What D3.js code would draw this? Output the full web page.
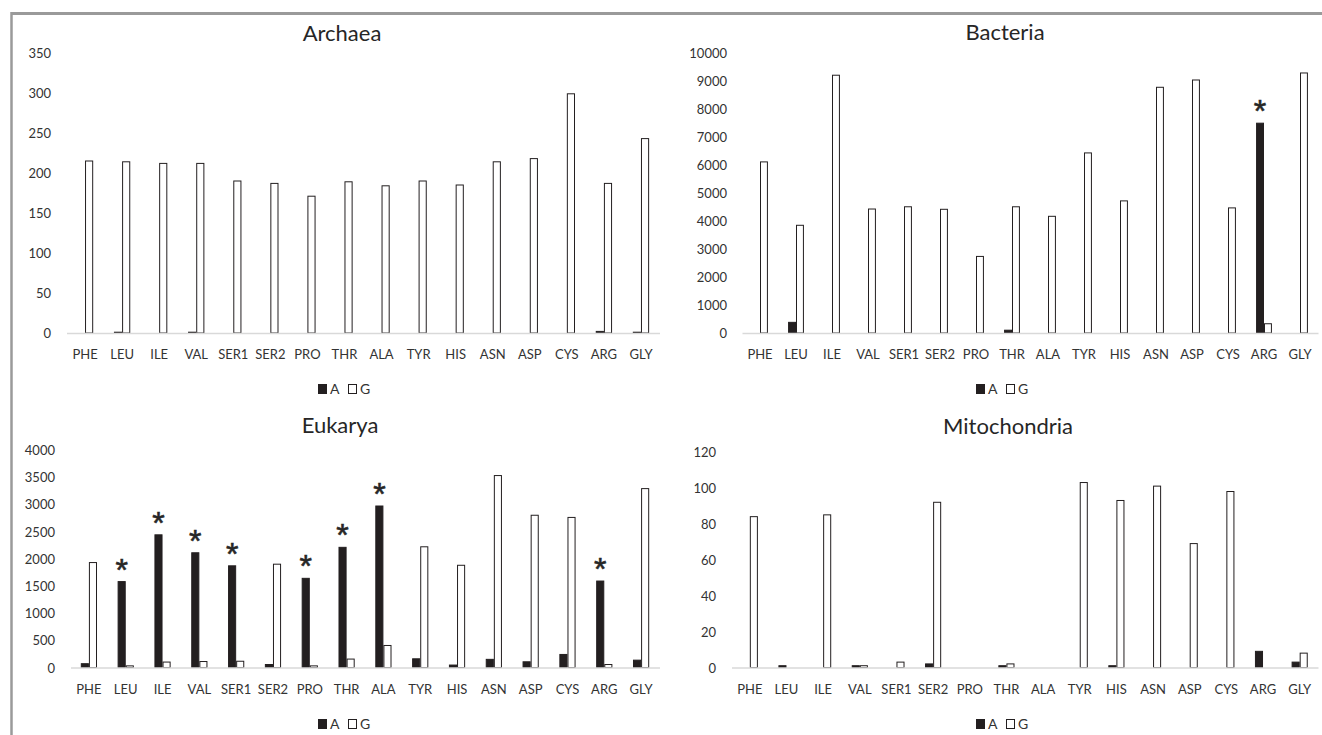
<!DOCTYPE html>
<html lang="en">
<head>
<meta charset="utf-8">
<title>A / G counts</title>
<script src="https://d3js.org/d3.v7.min.js"></script>
<style>
  body { margin: 0; background: #fff; }
  svg text { font-family: Lato, "Open Sans", sans-serif; fill: #262626; }
</style>
</head>
<body>
<div id="chart"></div>
<script>
const categories = ["PHE","LEU","ILE","VAL","SER1","SER2","PRO","THR","ALA","TYR","HIS","ASN","ASP","CYS","ARG","GLY"];

const archaeaA = [0, 1, 0, 1, 0, 0, 0, 0, 0, 0, 0, 0, 0, 0, 2, 1];
const archaeaG = [215, 214, 212, 212, 190, 187, 171, 189, 184, 190, 185, 214, 218, 299, 187, 243];
const archaeaTicks = [0, 50, 100, 150, 200, 250, 300, 350];
const archaeaStars = [];

const bacteriaA = [0, 380, 0, 0, 0, 0, 0, 100, 0, 0, 0, 0, 0, 0, 7480, 0];
const bacteriaG = [6100, 3840, 9190, 4420, 4500, 4410, 2730, 4500, 4160, 6420, 4710, 8760, 9020, 4460, 330, 9270];
const bacteriaTicks = [0, 1000, 2000, 3000, 4000, 5000, 6000, 7000, 8000, 9000, 10000];
const bacteriaStars = ["ARG"];

const eukaryaA = [70, 1580, 2440, 2110, 1870, 55, 1640, 2210, 2970, 160, 45, 150, 105, 240, 1590, 135];
const eukaryaG = [1930, 30, 100, 110, 115, 1900, 30, 155, 405, 2220, 1880, 3530, 2800, 2760, 55, 3290];
const eukaryaTicks = [0, 500, 1000, 1500, 2000, 2500, 3000, 3500, 4000];
const eukaryaStars = ["LEU","ILE","VAL","SER1","PRO","THR","ALA","ARG"];

const mitoA = [0, 1, 0, 1, 0, 2, 0, 1, 0, 0, 1, 0, 0, 0, 9, 3];
const mitoG = [84, 0, 85, 1, 3, 92, 0, 2, 0, 103, 93, 101, 69, 98, 0, 8];
const mitoTicks = [0, 20, 40, 60, 80, 100, 120];
const mitoStars = [];

const seriesNames = ["A", "G"];

// layout of the four panels
const panels = [
  { title: "Archaea", A: archaeaA, G: archaeaG, ticks: archaeaTicks, stars: archaeaStars,
    xr: [66.5, 659.5], yr: [333, 53], labelX: 51, titleX: 342, titleY: 41, catY: 359, legendX: 340, legendY: 389 },
  { title: "Bacteria", A: bacteriaA, G: bacteriaG, ticks: bacteriaTicks, stars: bacteriaStars,
    xr: [742, 1318], yr: [333, 52.5], labelX: 727, titleX: 1005, titleY: 40, catY: 359, legendX: 998, legendY: 389 },
  { title: "Eukarya", A: eukaryaA, G: eukaryaG, ticks: eukaryaTicks, stars: eukaryaStars,
    xr: [70.5, 659.5], yr: [667.5, 450], labelX: 55, titleX: 340, titleY: 433, catY: 694, legendX: 340, legendY: 724 },
  { title: "Mitochondria", A: mitoA, G: mitoG, ticks: mitoTicks, stars: mitoStars,
    xr: [731.5, 1318], yr: [667.5, 452], labelX: 716, titleX: 1008, titleY: 434, catY: 694, legendX: 998, legendY: 724 }
];

const W = 1322, H = 735;
const svg = d3.select("#chart").append("svg")
  .attr("width", W).attr("height", H)
  .attr("viewBox", [0, 0, W, H]);

// grey frame (top and left edges)
svg.append("line").attr("x1", 11).attr("x2", W).attr("y1", 13.5).attr("y2", 13.5)
  .attr("stroke", "#9a9a9a").attr("stroke-width", 3);
svg.append("line").attr("x1", 11.5).attr("x2", 11.5).attr("y1", 12).attr("y2", H)
  .attr("stroke", "#9a9a9a").attr("stroke-width", 2.5);

function drawPanel(p) {
  const g = svg.append("g");
  const data = categories.map((c, i) => ({ cat: c, A: p.A[i], G: p.G[i] }));

  const x0 = d3.scaleBand().domain(categories).range(p.xr).paddingInner(0).paddingOuter(0);
  const bw = x0.bandwidth();
  const x1 = d3.scaleBand().domain(seriesNames).range([bw * 0.28, bw * 0.72]);
  const y = d3.scaleLinear().domain([0, d3.max(p.ticks)]).range(p.yr);

  // title
  g.append("text").attr("x", p.titleX).attr("y", p.titleY)
    .attr("text-anchor", "middle").style("font-size", "22px").text(p.title);

  // y axis labels
  const yAxis = d3.axisLeft(y).tickValues(p.ticks).tickFormat(d3.format("d")).tickSize(0).tickPadding(0);
  const ya = g.append("g").attr("transform", `translate(${p.labelX},0)`).call(yAxis);
  ya.select(".domain").remove();
  ya.selectAll("text").style("font-size", "13px").style("fill", "#333").attr("dy", "0.35em");

  // bars
  const groups = g.append("g").selectAll("g").data(data).join("g")
    .attr("transform", d => `translate(${x0(d.cat)},0)`);
  groups.selectAll("rect").data(d => seriesNames.map(k => ({ key: k, value: d[k] })))
    .join("rect")
    .filter(d => d.value > 0)
    .attr("x", d => x1(d.key) + 0.5)
    .attr("width", x1.bandwidth() - 1)
    .attr("y", d => y(d.value))
    .attr("height", d => y(0) - y(d.value))
    .attr("fill", d => d.key === "A" ? "#231f20" : "#fff")
    .attr("stroke", "#231f20")
    .attr("stroke-width", 1);

  // x axis
  const xAxis = d3.axisBottom(x0).tickSize(0).tickPadding(0);
  const xa = g.append("g").attr("transform", `translate(0,${p.yr[0]})`).call(xAxis);
  xa.select(".domain").attr("stroke", "#d9d9d9").attr("stroke-width", 1.5);
  xa.selectAll("text").attr("y", p.catY - p.yr[0]).attr("dy", 0)
    .style("font-size", "13px").style("fill", "#333");

  // significance stars above A bars
  g.append("g").selectAll("text").data(data.filter(d => p.stars.includes(d.cat)))
    .join("text")
    .attr("x", d => x0(d.cat) + x1("A") + x1.bandwidth() / 2)
    .attr("y", d => y(d.A) - 1)
    .attr("text-anchor", "middle")
    .style("font-family", "'Liberation Sans', sans-serif")
    .style("font-size", "32px")
    .style("stroke", "#262626")
    .style("stroke-width", 0.6)
    .text("*");

  // legend
  const lg = g.append("g").attr("transform", `translate(${p.legendX - 22},${p.legendY})`);
  seriesNames.forEach((k, i) => {
    const off = i * 30;
    lg.append("rect").attr("x", off + 0.5).attr("y", -4.5).attr("width", 8).attr("height", 9)
      .attr("fill", k === "A" ? "#231f20" : "#fff").attr("stroke", "#231f20").attr("stroke-width", 1);
    lg.append("text").attr("x", off + 12).attr("y", 0).attr("dy", "0.35em")
      .style("font-size", "14px").style("fill", "#333").text(k);
  });
}

panels.forEach(drawPanel);
</script>
</body>
</html>
